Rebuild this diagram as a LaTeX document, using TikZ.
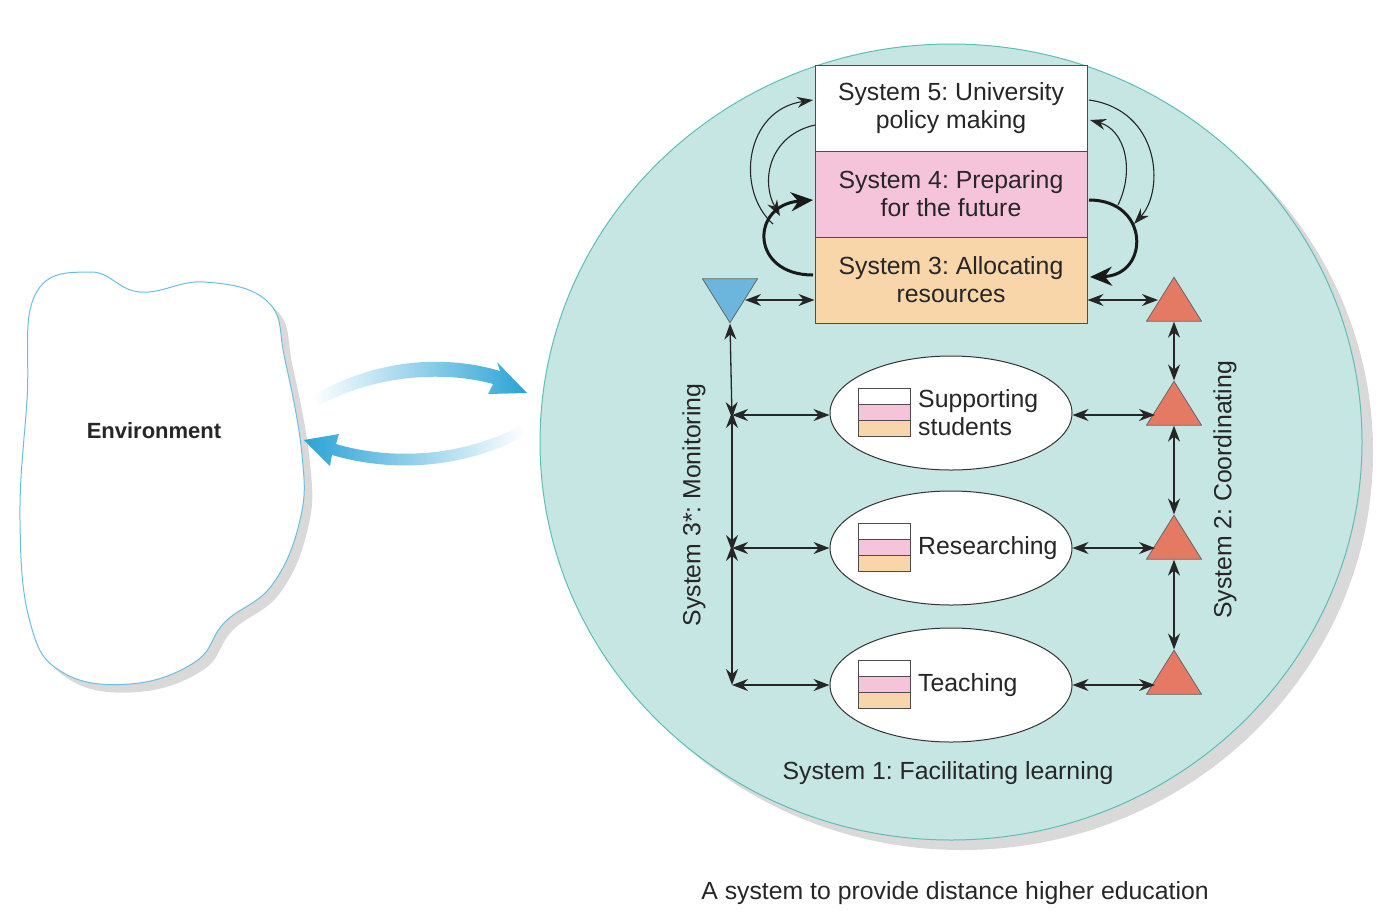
\documentclass[tikz,border=0pt]{standalone}
\usepackage{fontspec}
\setmainfont{Liberation Sans}
\usetikzlibrary{arrows.meta,shapes.geometric}
\definecolor{circ}{HTML}{C6E6E3}
\definecolor{circe}{HTML}{5FBDB6}
\definecolor{pk}{HTML}{F5C4DB}
\definecolor{org}{HTML}{F9D6AA}
\definecolor{tb}{HTML}{6CB6DE}
\definecolor{tr}{HTML}{E47A63}
\definecolor{ab}{HTML}{2AA3D6}
\begin{document}
\frenchspacing
\begin{tikzpicture}[x=1pt,y=-1pt,
 every node/.style={font=\fontsize{24.8}{28}\selectfont, text=black!85},
 bx/.style={draw=black!70, line width=1pt, minimum width=272pt, minimum height=86pt, inner sep=0pt, align=center},
 el/.style={ellipse, draw=black!80, line width=1pt, fill=white, minimum width=242pt, minimum height=114pt},
 tri/.style={isosceles triangle, isosceles triangle apex angle=64, shape border rotate=90, draw=black!60, line width=0.8pt, fill=tr, minimum height=44pt, inner sep=0pt},
 da/.style={{Stealth[length=16pt,width=12pt]}-{Stealth[length=16pt,width=12pt]}, line width=1.3pt, black!85},
 sa/.style={-{Stealth[length=16pt,width=11pt]}, line width=1.1pt, black!85},
 ta/.style={-{Stealth[length=22pt,width=19pt]}, line width=3pt, black!90}]
\useasboundingbox (0,0) rectangle (1400,911);
% circle
\fill[black!25, opacity=0.6] (962,452) ellipse [x radius=411, y radius=398];
\node[ellipse, draw=circe, line width=1pt, fill=circ, minimum width=822pt, minimum height=796pt, inner sep=0pt] (C) at (951,442) {};
% environment
\fill[black!25, opacity=0.6, shift={(8,8)}] plot[smooth cycle, tension=0.7] coordinates {(35,295)(90,272)(140,292)(205,282)(268,302)(285,360)(302,455)(300,520)(272,585)(225,622)(195,662)(130,684)(62,672)(30,622)(20,520)(27,400)};
\draw[ab!70, line width=1pt, fill=white] plot[smooth cycle, tension=0.7] coordinates {(35,295)(90,272)(140,292)(205,282)(268,302)(285,360)(302,455)(300,520)(272,585)(225,622)(195,662)(130,684)(62,672)(30,622)(20,520)(27,400)};
\node[font=\bfseries\fontsize{22}{25}\selectfont] (env) at (154,431) {Environment};
% blue arrows
\shade[left color=white, right color=ab] (312,396) .. controls (380,356) and (450,356) .. (500,371) -- (497,362) -- (527,393) -- (488,394) -- (493,384) .. controls (450,372) and (380,372) .. (318,406) -- cycle;
\shade[left color=ab, right color=white] (522,425) .. controls (460,458) and (390,460) .. (336,444) -- (339,434) -- (304,440) -- (330,466) -- (332,455) .. controls (390,472) and (460,470) .. (525,436) -- cycle;
% boxes
\node[bx, fill=white] (s5) at (951,108) {System 5: University\\policy making};
\node[bx, fill=pk] (s4) at (951,194) {System 4: Preparing\\for the future};
\node[bx, fill=org] (s3) at (951,280) {System 3: Allocating\\resources};
% triangles
\node[tri, fill=tb, shape border rotate=270] (tb) at (730,294) {};
\node[tri] (t0) at (1174,306) {};
\node[tri] (t1) at (1174,410) {};
\node[tri] (t2) at (1174,544) {};
\node[tri] (t3) at (1174,679) {};
% ellipses
\foreach \n/\y/\t in {e1/413/{Supporting\\students}, e2/548/{Researching}, e3/685/{Teaching}}{
 \node[el] (\n) at (951,\y) {};
 \node[align=left, anchor=west, inner sep=0pt, font=\fontsize{24.8}{28}\selectfont] at (918,\y) {\t};
 \draw[black!70, line width=0.8pt, fill=white] (858,\y-25) rectangle (910,\y-9);
 \draw[black!70, line width=0.8pt, fill=pk] (858,\y-9) rectangle (910,\y+7);
 \draw[black!70, line width=0.8pt, fill=org] (858,\y+7) rectangle (910,\y+23);
}
% left monitoring lines
\coordinate (m1) at (732,415);
\coordinate (m2) at (732,548);
\coordinate (m3) at (732,685);
\draw[da] (tb.apex) -- ([yshift=-3pt]m1);
\draw[da] ([yshift=3pt]m1) -- ([yshift=-3pt]m2);
\draw[da] ([yshift=3pt]m2) -- (m3);
\draw[da] (m1) -- (e1.west |- m1);
\draw[da] (m2) -- (e2.west);
\draw[da] (m3) -- (e3.west);
\draw[da] (745,300) -- (s3.west |- 0,300);
% right coordinating lines
\draw[da] (t0.south) -- (t1.apex);
\draw[da] (t1.south) -- (t2.apex);
\draw[da] (t2.south) -- (t3.apex);
\draw[da] (e1.east |- 0,415) -- (1155,415);
\draw[da] (e2.east) -- (1155,548);
\draw[da] (e3.east) -- (1155,685);
\draw[da] (s3.east |- 0,300) -- (1158,300);
% loops left
\draw[sa] (773,224) .. controls (735,190) and (745,110) .. (813,100);
\draw[sa] (815,125) .. controls (770,135) and (760,180) .. (780,216);
\draw[ta] (813,275) .. controls (750,275) and (750,205) .. (813,200);
% loops right
\draw[sa] (1089,100) .. controls (1160,110) and (1165,190) .. (1134,224);
\draw[sa] (1118,205) .. controls (1135,170) and (1125,130) .. (1090,120);
\draw[ta] (1089,200) .. controls (1150,200) and (1150,275) .. (1090,277);
% labels
\node[rotate=90] (l3) at (694,505) {System 3*: Monitoring};
\node[rotate=90] (l2) at (1225,490) {System 2: Coordinating};
\node (l1) at (948,773) {System 1: Facilitating learning};
\node (cap) at (955,893) {A system to provide distance higher education};
\end{tikzpicture}
\end{document}
